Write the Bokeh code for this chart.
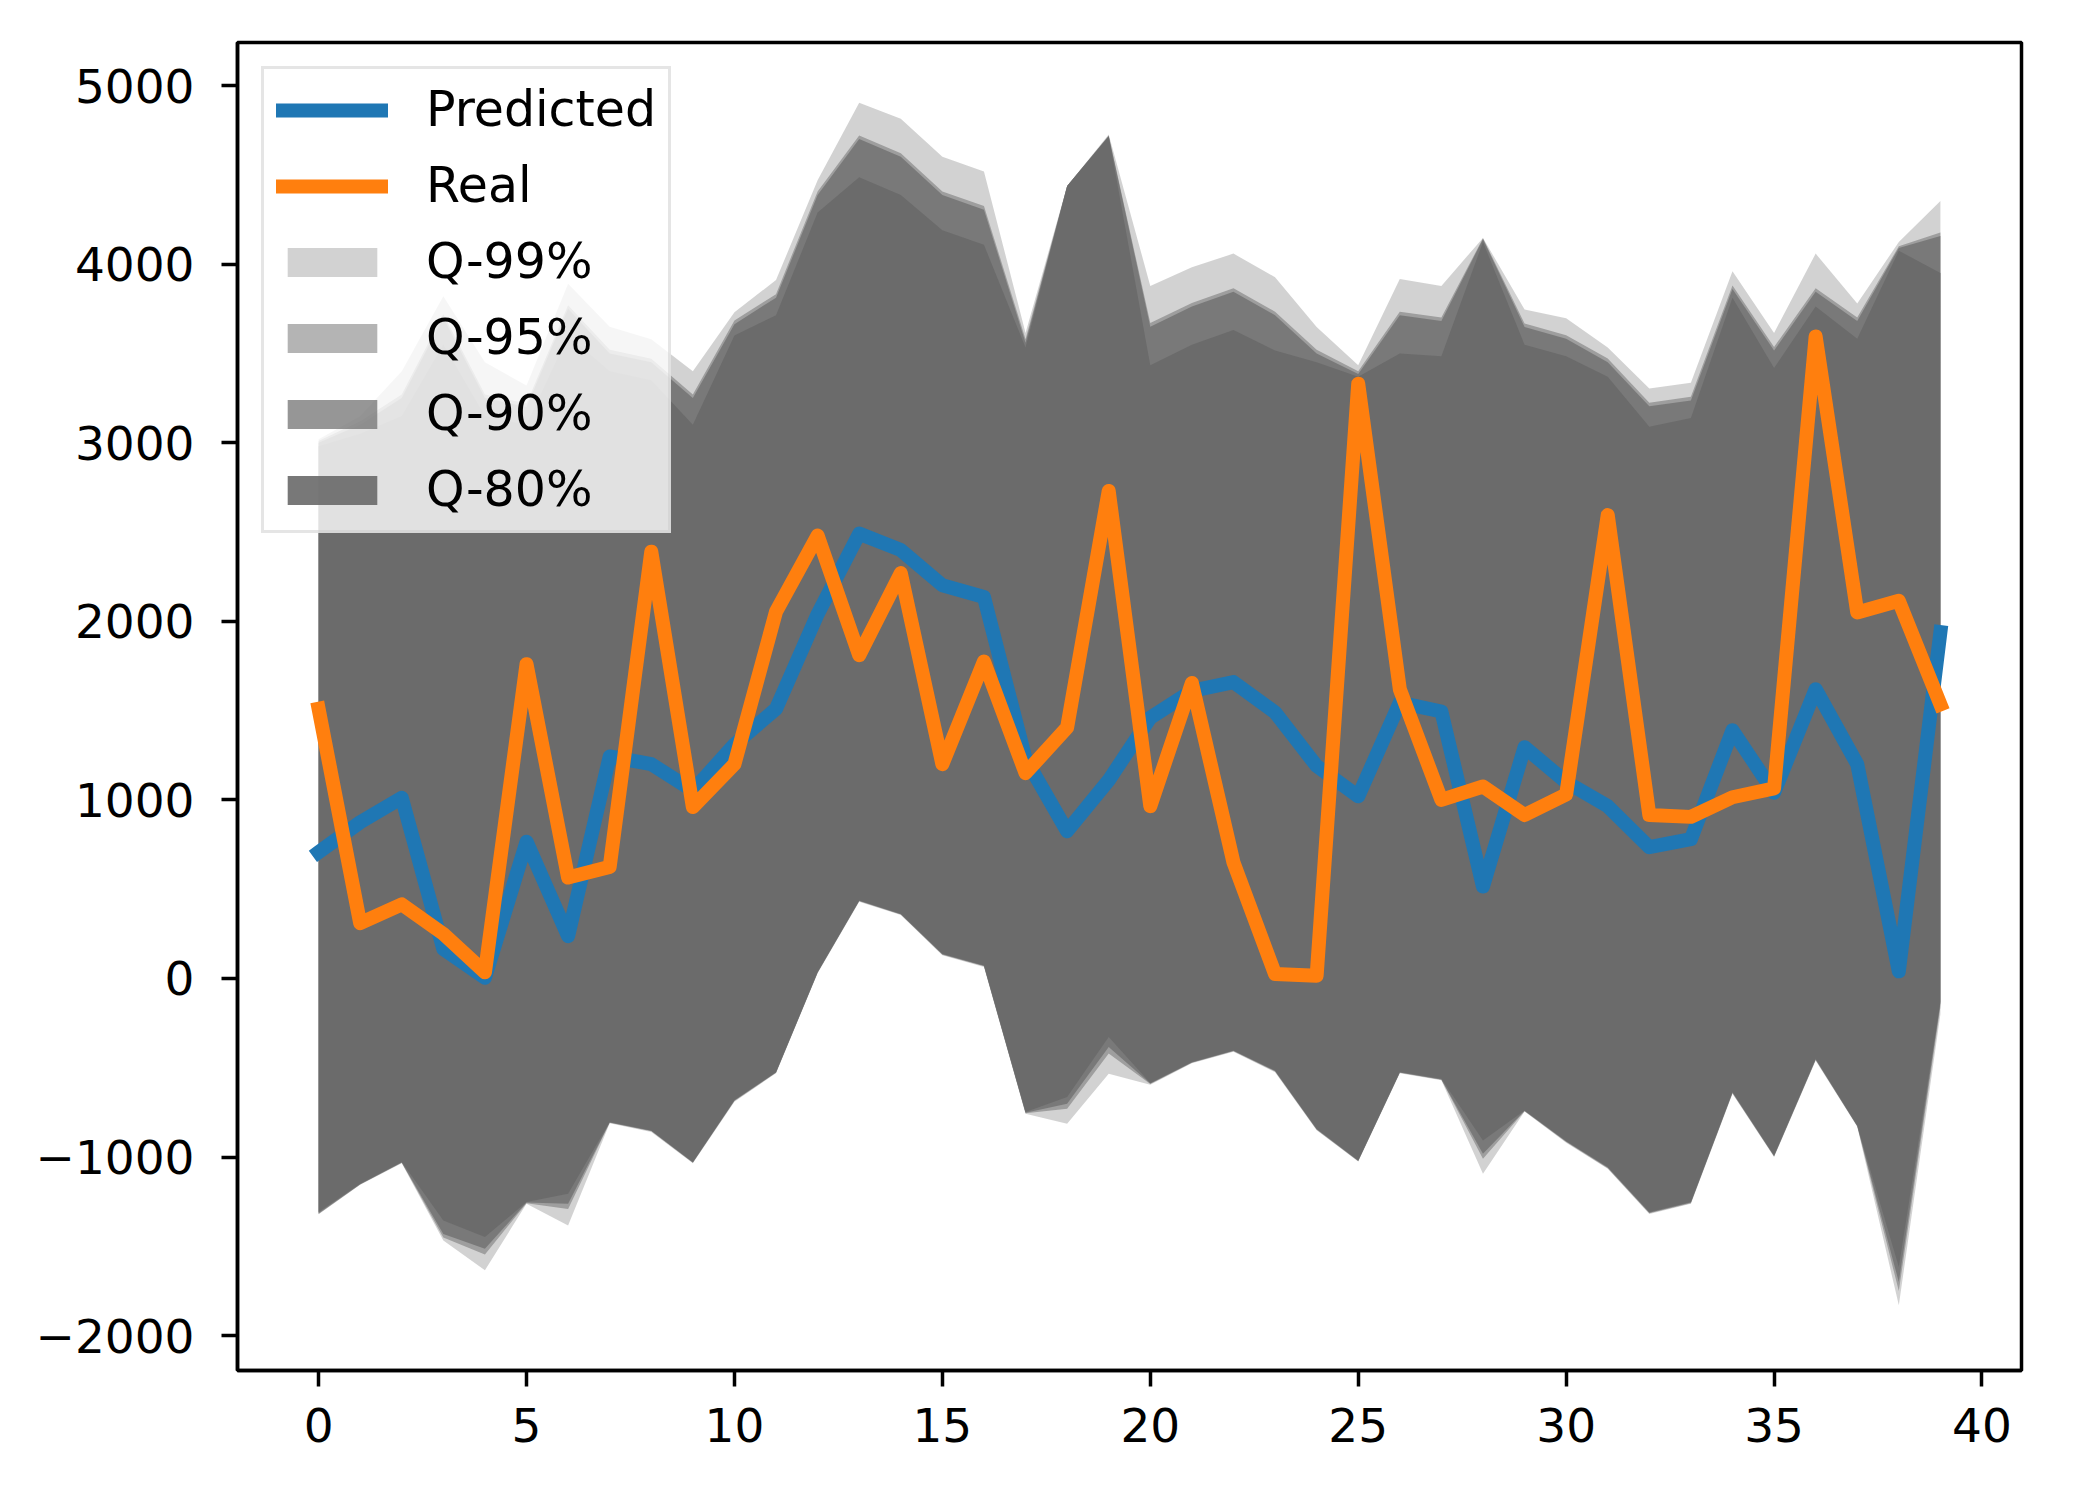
from bokeh.plotting import figure
from bokeh.models import Range1d, FixedTicker, Legend, LegendItem
from bokeh.embed import file_html
from bokeh.resources import INLINE

steps = list(range(40))

predicted = [707, 875, 1012, 165, 4, 766, 237, 1243, 1200, 1052,
             1310, 1510, 2040, 2491, 2399, 2202, 2136, 1230, 825, 1110,
             1460, 1610, 1660, 1490, 1190, 1020, 1545, 1495, 515, 1295,
             1100, 965, 735, 780, 1390, 1040, 1620, 1200, 40, 1940]

real = [1510, 310, 415, 250, 35, 1760, 565, 625, 2390, 960,
        1200, 2054, 2480, 1810, 2270, 1200, 1775, 1150, 1405, 2730,
        965, 1655, 650, 25, 15, 3330, 1620, 1000, 1075, 915,
        1030, 2595, 915, 905, 1015, 1065, 3595, 2050, 2115, 1535]

q99_upper = [3020, 3150, 3400, 3820, 3450, 3320, 3890, 3650, 3580, 3400,
             3730, 3911, 4469, 4903, 4814, 4601, 4519, 3615, 4437, 4726,
             3878, 3983, 4059, 3927, 3648, 3434, 3917, 3878, 4147, 3746,
             3697, 3533, 3303, 3336, 3960, 3615, 4059, 3779, 4124, 4354]
q95_upper = [3010, 3120, 3270, 3720, 3270, 3220, 3770, 3520, 3470, 3270,
             3684, 3832, 4407, 4720, 4621, 4407, 4325, 3580, 4437, 4720,
             3670, 3783, 3865, 3734, 3520, 3400, 3734, 3701, 4145, 3668,
             3602, 3471, 3224, 3257, 3881, 3536, 3865, 3701, 4100, 4177]
q90_upper = [3000, 3100, 3250, 3700, 3250, 3200, 3750, 3500, 3450, 3250,
             3664, 3812, 4387, 4700, 4601, 4387, 4305, 3560, 4437, 4716,
             3650, 3763, 3845, 3714, 3500, 3385, 3714, 3681, 4140, 3648,
             3582, 3451, 3204, 3237, 3861, 3516, 3845, 3681, 4091, 4157]
q80_upper = [2980, 3050, 3150, 3550, 3150, 3100, 3600, 3400, 3350, 3100,
             3600, 3714, 4289, 4486, 4387, 4190, 4108, 3533, 4437, 4716,
             3434, 3549, 3631, 3516, 3451, 3369, 3500, 3484, 4124, 3549,
             3484, 3369, 3089, 3139, 3812, 3418, 3763, 3582, 4075, 3950]

q80_lower = [-1308, -1149, -1028, -1355, -1448, -1252, -1205, -804, -851, -1028,
             -680, -524, 36, 437, 362, 138, 73, -748, -664, -328,
             -585, -468, -403, -515, -841, -1019, -524, -562, -907, -739,
             -910, -1056, -1308, -1252, -636, -991, -450, -823, -1616, -130]
q90_lower = [-1315, -1152, -1030, -1430, -1513, -1255, -1261, -806, -853, -1030,
             -683, -526, 34, 435, 360, 136, 71, -752, -701, -384,
             -588, -470, -405, -518, -844, -1021, -526, -565, -982, -741,
             -913, -1059, -1311, -1255, -639, -994, -453, -826, -1700, -140]
q95_lower = [-1318, -1154, -1032, -1450, -1545, -1258, -1290, -808, -856, -1032,
             -686, -528, 32, 433, 358, 133, 68, -754, -730, -420,
             -591, -472, -407, -521, -847, -1023, -528, -567, -1010, -743,
             -916, -1062, -1314, -1258, -642, -997, -456, -828, -1750, -160]
q99_lower = [-1320, -1155, -1035, -1467, -1634, -1261, -1383, -810, -860, -1035,
             -690, -530, 30, 430, 355, 130, 65, -757, -813, -534,
             -595, -475, -410, -525, -850, -1025, -530, -570, -1093, -745,
             -920, -1065, -1318, -1262, -645, -1000, -460, -830, -1830, -200]

band_names = ["Q-99%", "Q-95%", "Q-90%", "Q-80%"]
band_alphas = [0.3, 0.5, 0.7, 0.9]

x_ticks = [0, 5, 10, 15, 20, 25, 30, 35, 40]
y_ticks = [-2000, -1000, 0, 1000, 2000, 3000, 4000, 5000]
y_tick_labels = ["\u22122000", "\u22121000", "0", "1000", "2000", "3000", "4000", "5000"]

FONT = "DejaVu Sans"

p = figure(width=2076, height=1484, output_backend="svg", toolbar_location=None,
           x_range=Range1d(-1.95, 40.95), y_range=Range1d(-2195, 5241),
           min_border_left=237, min_border_right=55, min_border_top=42,
           min_border_bottom=114)
p.grid.visible = False
p.background_fill_color = "white"
p.border_fill_color = "white"
p.outline_line_color = "black"
p.outline_line_width = 3.5

bands = [(q99_lower, q99_upper), (q95_lower, q95_upper),
         (q90_lower, q90_upper), (q80_lower, q80_upper)]
band_renderers = []
for (lo, hi), a in zip(bands, band_alphas):
    r = p.varea(x=steps, y1=lo, y2=hi, fill_color="dimgray", fill_alpha=a)
    band_renderers.append(r)

r_pred = p.line(steps, predicted, line_color="#1f77b4", line_width=14,
                line_join="round", line_cap="square")
r_real = p.line(steps, real, line_color="#ff7f0e", line_width=14,
                line_join="round", line_cap="square")

items = [LegendItem(label="Predicted", renderers=[r_pred]),
         LegendItem(label="Real", renderers=[r_real])]
for name, r in zip(band_names, band_renderers):
    items.append(LegendItem(label=name, renderers=[r]))

legend = Legend(items=items, location="top_left", margin=24, padding=12,
                spacing=19, glyph_width=112, glyph_height=36, label_standoff=38,
                label_height=51, label_text_font=FONT, label_text_font_size="49px",
                label_text_color="black", background_fill_color="white",
                background_fill_alpha=0.8, border_line_color="#cccccc",
                border_line_width=3)
p.add_layout(legend)

for ax in (p.xaxis[0], p.yaxis[0]):
    ax.axis_line_color = "black"
    ax.axis_line_width = 3.5
    ax.major_tick_line_color = "black"
    ax.major_tick_line_width = 3.5
    ax.major_tick_out = 16
    ax.major_tick_in = 0
    ax.minor_tick_line_color = None
    ax.major_label_text_font = FONT
    ax.major_label_text_font_size = "47px"
    ax.major_label_text_color = "black"

p.xaxis.ticker = FixedTicker(ticks=x_ticks)
p.yaxis.ticker = FixedTicker(ticks=y_ticks)
p.yaxis.major_label_overrides = {t: l for t, l in zip(y_ticks, y_tick_labels)}
p.xaxis.major_label_standoff = 21
p.yaxis.major_label_standoff = 27

open("out.html", "w").write(file_html(p, INLINE))
